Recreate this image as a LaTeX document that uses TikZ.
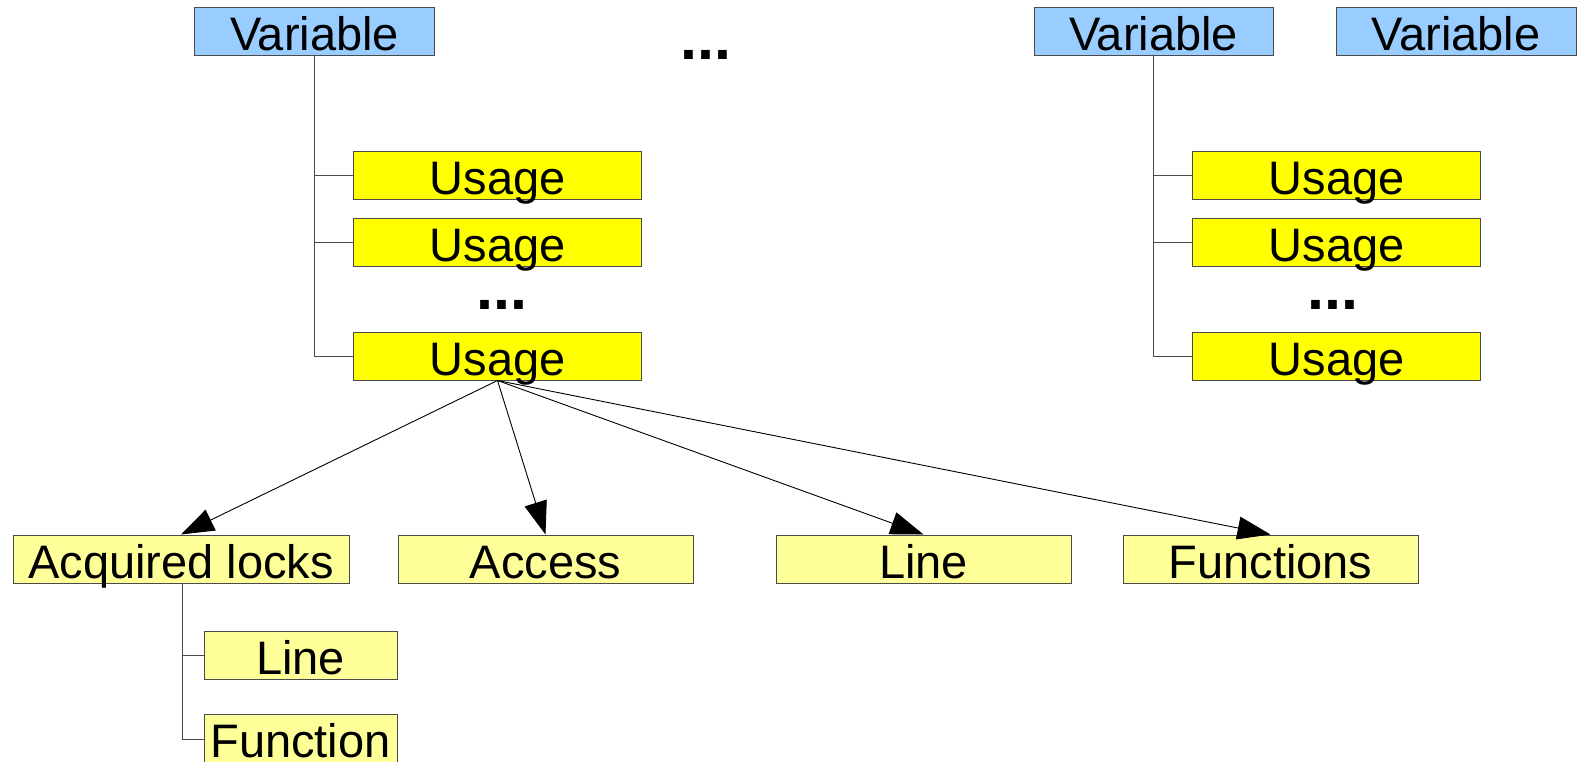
\documentclass[tikz,border=0pt]{standalone}
\usepackage{fontspec}
\setmainfont{Liberation Sans}
\usetikzlibrary{arrows.meta}
\definecolor{varblue}{HTML}{99CCFF}
\definecolor{useyellow}{HTML}{FFFF00}
\definecolor{paleyellow}{HTML}{FFFF99}
\definecolor{edgegray}{HTML}{4A4A4A}

\begin{document}
\begin{tikzpicture}[x=1pt,y=-1pt,
  box/.style={draw=edgegray, line width=1pt, rectangle, inner sep=0pt,
    minimum height=48pt, text height=43pt, text depth=5pt,
    font=\fontsize{47}{50}\selectfont},
  varbox/.style={box, fill=varblue, minimum width=240pt},
  usebox/.style={box, fill=useyellow, minimum width=288pt},
  infobox/.style={box, fill=paleyellow, minimum width=295pt},
  subbox/.style={box, fill=paleyellow, minimum width=193pt},
  link/.style={draw=edgegray, line width=1pt},
  arr/.style={draw=black, line width=0.9pt, -{Triangle[length=33pt,width=23pt]}},
  dotmark/.style={inner sep=0pt, anchor=base, font=\fontsize{61}{61}\selectfont\bfseries}
]
\useasboundingbox (0,0) rectangle (1577,761);

% variables
\node[varbox] (v1) at (314.5,31) {Variable};
\node[varbox, minimum width=239pt] (v2) at (1153.5,31) {Variable};
\node[varbox] (v3) at (1456,31) {Variable};
\node[dotmark] (dtop) at (706,59) {...};

% usages of the first variable
\node[usebox] (u1) at (497.5,175) {Usage};
\node[usebox] (u2) at (497.5,242) {Usage};
\node[dotmark] (dl) at (501.5,309) {...};
\node[usebox] (u3) at (497.5,356) {Usage};

% usages of the last-but-one variable
\node[usebox] (r1) at (1336.5,175) {Usage};
\node[usebox] (r2) at (1336.5,242) {Usage};
\node[dotmark] (dr) at (1333,309) {...};
\node[usebox] (r3) at (1336.5,356) {Usage};

% details of a usage
\node[infobox, minimum width=336pt] (acq) at (181,559) {Acquired locks};
\node[infobox] (acc) at (545.5,559) {Access};
\node[infobox] (lin) at (923.5,559) {Line};
\node[infobox] (fun) at (1270.5,559) {Functions};

% details of an acquired lock
\node[subbox] (sl) at (300.5,655) {Line};
\node[subbox] (sf) at (300.5,738) {Function};

% tree connectors
\foreach \u in {u1,u2,u3} \draw[link] (v1.south) |- (\u.west);
\foreach \u in {r1,r2,r3} \draw[link] (v2.south) |- (\u.west);
\draw[link] ([xshift=1pt]acq.south) |- (sl.west);
\draw[link] ([xshift=1pt]acq.south) |- ([yshift=-1pt]sf.west);

% arrows from the usage to its details
\foreach \t in {acq,acc,lin,fun} \draw[arr] (u3.south) -- (\t.north);
\end{tikzpicture}
\end{document}
